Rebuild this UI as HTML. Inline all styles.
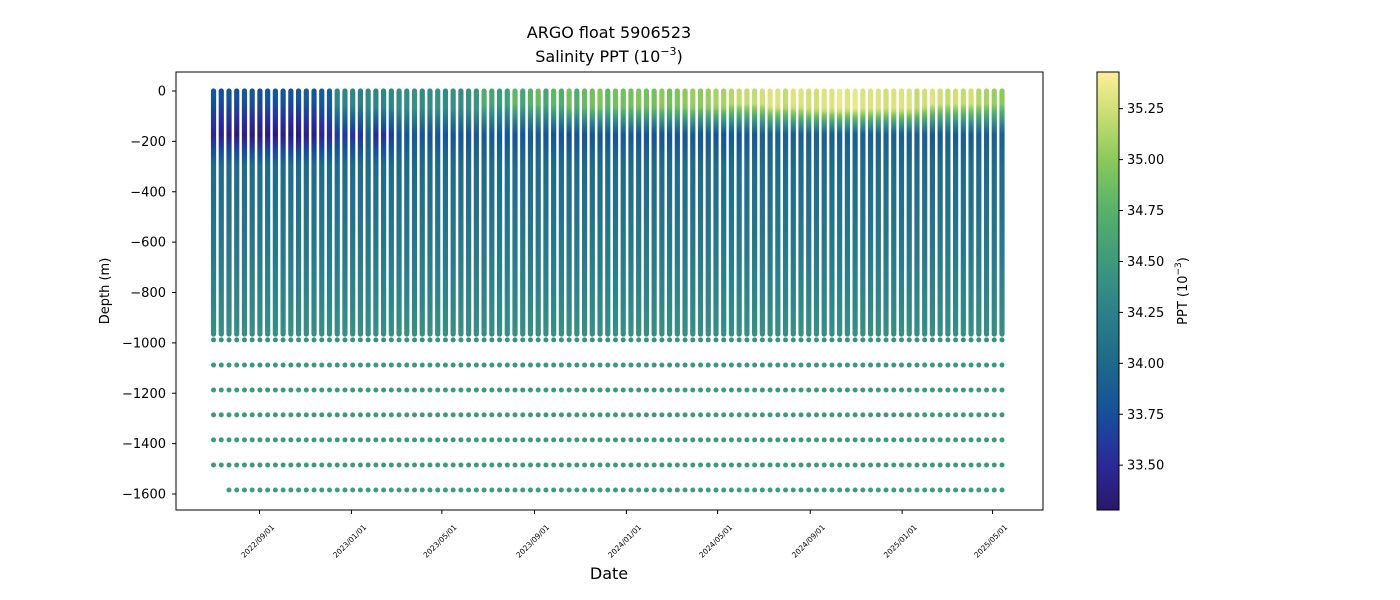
<!DOCTYPE html>
<html><head><meta charset="utf-8"><style>
html,body{margin:0;padding:0;background:#fff;}
svg{display:block;font-family:"DejaVu Sans","Liberation Sans",sans-serif;}
</style></head><body>
<svg id="chart" width="1400" height="600" viewBox="0 0 1400 600" xmlns="http://www.w3.org/2000/svg">
<defs id="defs"><linearGradient id="cbgrad" x1="0" y1="1" x2="0" y2="0"></linearGradient></defs>
<text x="609" y="38" text-anchor="middle" font-size="16" fill="#000">ARGO float 5906523</text>
<text x="609" y="62" text-anchor="middle" font-size="16" fill="#000">Salinity PPT (10<tspan dy="-7" font-size="11">−3</tspan><tspan dy="7">)</tspan></text>
<g id="plot"></g>
<rect x="176" y="72" width="867" height="438" fill="none" stroke="#000" stroke-width="1"/>
<g id="yticks"></g>
<g id="xticks"></g>
<text transform="translate(109,291) rotate(-90)" text-anchor="middle" font-size="13">Depth (m)</text>
<text x="609" y="579" text-anchor="middle" font-size="16">Date</text>
<rect x="1097" y="72" width="22" height="438" fill="url(#cbgrad)" stroke="#000" stroke-width="1"/>
<g id="cbticks"></g>
<text transform="translate(1187,291) rotate(-90)" text-anchor="middle" font-size="13">PPT (10<tspan dy="-6" font-size="9">−3</tspan><tspan dy="6">)</tspan></text>
</svg>
<script>
const NS="http://www.w3.org/2000/svg";
// ---- data ----
const startDate = "2022-07-02";
const profileStepDays = 10.26;
const surfaceSalinity = [33.8,33.75,33.8,33.75,33.8,33.8,33.75,33.8,33.8,33.8,33.75,33.8,33.85,33.8,33.85,33.9,34.3,34.3,34.3,34.25,34.35,34.3,34.3,34.3,34.35,34.35,34.4,34.35,34.35,34.4,34.35,34.4,34.35,34.4,34.45,34.7,34.6,34.5,34.55,34.8,34.6,34.75,34.85,34.6,34.8,34.7,34.9,34.7,34.85,34.9,34.95,34.8,34.9,34.9,34.9,34.95,34.9,34.9,35.0,34.9,34.95,35.0,35.05,35.0,35.05,35.1,35.1,35.15,35.2,35.2,35.2,35.25,35.3,35.3,35.2,35.3,35.3,35.25,35.25,35.3,35.3,35.35,35.3,35.35,35.3,35.3,35.3,35.25,35.3,35.3,35.3,35.2,35.25,35.3,35.25,35.2,35.25,35.2,35.25,35.15,35.1,35.05,35.0];
const mixedLayerDepth = [40,40,40,40,40,40,40,40,40,40,40,40,40,40,40,40,60,60,60,60,70,70,70,70,80,80,80,80,80,80,80,80,80,80,80,60,60,60,60,60,60,60,60,60,60,60,70,70,70,70,70,70,70,70,70,70,70,70,70,70,70,70,70,70,70,70,70,60,60,60,60,60,70,70,70,70,70,80,80,80,80,80,80,80,80,80,80,80,80,80,80,80,70,60,60,60,60,60,60,60,60,60,60];
const minSalinity = [33.45,33.4,33.4,33.35,33.4,33.35,33.35,33.35,33.35,33.4,33.35,33.35,33.4,33.4,33.45,33.5,33.6,33.6,33.55,33.55,33.9,33.5,33.55,33.6,33.8,33.8,33.85,33.8,33.8,33.8,33.8,33.8,33.8,33.8,33.85,33.85,33.85,33.85,33.8,33.8,33.8,33.85,33.85,33.8,33.8,33.8,33.75,33.8,33.8,33.8,33.8,33.8,33.8,33.85,33.85,33.8,33.8,33.8,33.8,33.8,33.8,33.8,33.85,33.8,33.85,33.8,33.8,33.85,33.8,33.85,33.85,33.9,33.9,33.9,33.9,33.9,33.9,33.9,33.9,33.9,33.9,33.9,33.9,33.9,33.9,33.9,33.9,33.9,33.9,33.9,33.9,33.9,33.9,33.85,33.85,33.9,33.85,33.9,33.85,33.9,33.9,33.9,33.9];
const minDepth = 180;
const deepNodeDepths = [300, 500, 700, 975];
const deepNodeSalinity = [34.02, 34.1, 34.22, 34.4];
const columnBottomDepth = 965;
const discreteDepths = [988, 1088, 1187, 1286, 1385, 1485, 1584];
const discreteSalinity = [34.42, 34.48, 34.5, 34.5, 34.5, 34.5, 34.52];
const discreteFirstProfile = [0, 0, 0, 0, 0, 0, 2];
const yTicks = [0,-200,-400,-600,-800,-1000,-1200,-1400,-1600];
const xTickLabels = ["2022/09/01","2023/01/01","2023/05/01","2023/09/01","2024/01/01","2024/05/01","2024/09/01","2025/01/01","2025/05/01"];
const cbTicks = [33.50,33.75,34.00,34.25,34.50,34.75,35.00,35.25];
// ---- scales ----
const cMin=33.28, cMax=35.43;
const day0 = Date.UTC(2022,8,1);
function dayOf(s){const p=s.split(/[\/-]/).map(Number);return (Date.UTC(p[0],p[1]-1,p[2])-day0)/86400000;}
function xS(d){return 259.5 + d*0.7534;}
function yS(m){return 91 - m*0.25188;}
const stops=[[0,[42,24,108]],[0.12,[43,44,158]],[0.22,[20,80,154]],[0.34,[30,106,138]],[0.45,[44,128,138]],[0.567,[62,154,126]],[0.68,[85,176,106]],[0.8,[138,201,90]],[0.915,[209,223,120]],[1,[253,238,153]]];
function color(v){let t=Math.max(0,Math.min(1,(v-cMin)/(cMax-cMin)));
 for(let i=1;i<stops.length;i++){if(t<=stops[i][0]){const a=stops[i-1],b=stops[i];const f=(t-a[0])/(b[0]-a[0]);
 const c=a[1].map((x,k)=>Math.round(x+(b[1][k]-x)*f));return `rgb(${c[0]},${c[1]},${c[2]})`;}}
 return "rgb(253,238,153)";}
// ---- colorbar ----
const cbg=document.getElementById('cbgrad');
for(let i=0;i<=20;i++){const s=document.createElementNS(NS,'stop');s.setAttribute('offset',i/20);s.setAttribute('stop-color',color(cMin+(cMax-cMin)*i/20));cbg.appendChild(s);}
const cbt=document.getElementById('cbticks');
cbTicks.forEach(v=>{const y=510-(v-cMin)/(cMax-cMin)*438;
 const l=document.createElementNS(NS,'line');l.setAttribute('x1',1119);l.setAttribute('x2',1123);l.setAttribute('y1',y);l.setAttribute('y2',y);l.setAttribute('stroke','#000');
 
 cbt.appendChild(l);
 const t=document.createElementNS(NS,'text');t.setAttribute('x',1127);t.setAttribute('y',y+4.5);t.setAttribute('font-size','13');t.textContent=v.toFixed(2);
 
 cbt.appendChild(t);});
// ---- y axis ----
const yt=document.getElementById('yticks');
yTicks.forEach(v=>{const y=yS(v);
 const l=document.createElementNS(NS,'line');l.setAttribute('x1',172);l.setAttribute('x2',176);l.setAttribute('y1',y);l.setAttribute('y2',y);l.setAttribute('stroke','#000');
 
 yt.appendChild(l);
 const t=document.createElementNS(NS,'text');t.setAttribute('x',166);t.setAttribute('y',y+4.5);t.setAttribute('text-anchor','end');t.setAttribute('font-size','13');t.textContent=v===0?"0":"−"+Math.abs(v);
 
 yt.appendChild(t);});
// ---- x axis ----
const xt=document.getElementById('xticks');
xTickLabels.forEach(s=>{const x=xS(dayOf(s));
 const l=document.createElementNS(NS,'line');l.setAttribute('x1',x);l.setAttribute('x2',x);l.setAttribute('y1',510);l.setAttribute('y2',514);l.setAttribute('stroke','#000');
 
 xt.appendChild(l);
 const t=document.createElementNS(NS,'text');t.setAttribute('transform',`translate(${x},${543}) rotate(-45)`);t.setAttribute('text-anchor','middle');t.setAttribute('font-size','7.5');t.textContent=s;
 
 xt.appendChild(t);});
// ---- profiles ----
const plot=document.getElementById('plot');const defs=document.getElementById('defs');
const sd=dayOf(startDate);
function salAt(i,d){
 const ml=mixedLayerDepth[i];
 const nd=[0,ml,minDepth].concat(deepNodeDepths), nv=[surfaceSalinity[i],surfaceSalinity[i],minSalinity[i]].concat(deepNodeSalinity);
 for(let k=1;k<nd.length;k++){if(d<=nd[k]){const f=(d-nd[k-1])/(nd[k]-nd[k-1]);return nv[k-1]+(nv[k]-nv[k-1])*f;}}
 return nv[nv.length-1];}
surfaceSalinity.forEach((s,i)=>{
 const x=xS(sd+i*profileStepDays);
 const g=document.createElementNS(NS,'linearGradient');g.setAttribute('id','p'+i);g.setAttribute('x1',0);g.setAttribute('y1',0);g.setAttribute('x2',0);g.setAttribute('y2',1);
 const dmax=columnBottomDepth;
 for(let d=0;d<=dmax;d+=15){const st=document.createElementNS(NS,'stop');st.setAttribute('offset',d/dmax);st.setAttribute('stop-color',color(salAt(i,d)));g.appendChild(st);}
 defs.appendChild(g);
 const r=document.createElementNS(NS,'rect');
 const y0=yS(0)-2.6,y1=yS(-dmax)+2.6;
 r.setAttribute('x',x-2.6);r.setAttribute('y',y0);r.setAttribute('width',5.2);r.setAttribute('height',y1-y0);r.setAttribute('rx',2.6);r.setAttribute('fill',`url(#p${i})`);
 
 plot.appendChild(r);
 discreteDepths.forEach((dd,k)=>{
  if(i<discreteFirstProfile[k])return;
  const c=document.createElementNS(NS,'circle');c.setAttribute('cx',x);c.setAttribute('cy',yS(-dd));c.setAttribute('r',2.5);c.setAttribute('fill',color(discreteSalinity[k]));
  
  plot.appendChild(c);});
});
</script>
</body></html>
